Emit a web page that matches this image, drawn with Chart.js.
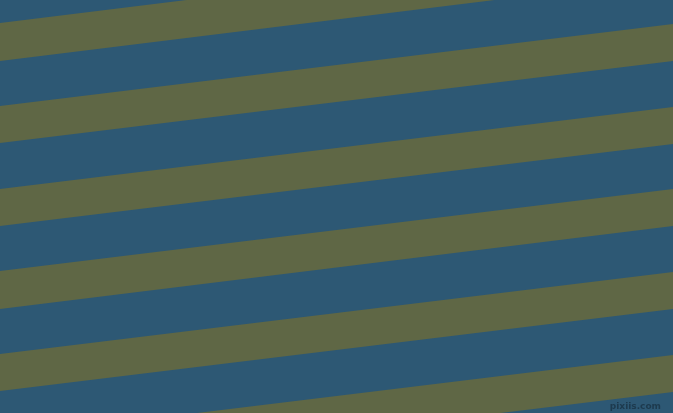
<!DOCTYPE html>
<html>
<head>
<meta charset="utf-8">
<script src="https://cdn.jsdelivr.net/npm/chart.js@4"></script>
<style>
  html, body { margin: 0; padding: 0; background: #2d5874; }
  #wrap { width: 673px; height: 413px; position: relative; }
</style>
</head>
<body>
<div id="wrap"><canvas id="stripeChart"></canvas></div>
<script>
// edges of the picture along x
const edgeX = [0, 673];
// olive stripe edges (y in px from top), read at the left and right edges
const leftTop = [23, 106, 189, 271, 354, 437];
const leftBottom = [61, 143, 226, 309, 391, 474];
const rightTop = [-60, 24, 107, 189, 272, 355];
const rightBottom = [-22, 61, 144, 226, 309, 392];

const blue = '#2d5874';
const olive = '#5f6745';

const datasets = [];
leftTop.forEach((t, i) => {
  datasets.push({
    data: [{ x: edgeX[0], y: t }, { x: edgeX[1], y: rightTop[i] }],
    borderColor: 'transparent',
    borderWidth: 0,
    pointRadius: 0,
    fill: false
  });
  datasets.push({
    data: [{ x: edgeX[0], y: leftBottom[i] }, { x: edgeX[1], y: rightBottom[i] }],
    borderColor: 'transparent',
    borderWidth: 0,
    pointRadius: 0,
    backgroundColor: olive,
    fill: '-1'
  });
});

const bgPlugin = {
  id: 'bg',
  beforeDraw(chart) {
    const c = chart.ctx;
    c.save();
    c.fillStyle = blue;
    c.fillRect(0, 0, chart.width, chart.height);
    c.restore();
  },
  afterDraw(chart) {
    const c = chart.ctx;
    c.save();
    c.font = 'bold 9px "DejaVu Sans"';
    c.textAlign = 'right';
    c.textBaseline = 'bottom';
    c.fillStyle = '#1d3a4e';
    c.fillText('pixiis.com', 661, 411);
    c.restore();
  }
};

new Chart(document.getElementById('stripeChart'), {
  type: 'line',
  data: { datasets: datasets },
  plugins: [bgPlugin],
  options: {
    responsive: true,
    maintainAspectRatio: false,
    animation: false,
    layout: { padding: 0 },
    plugins: { legend: { display: false }, tooltip: { enabled: false } },
    scales: {
      x: { type: 'linear', min: 0, max: 673, display: false },
      y: { type: 'linear', min: 0, max: 413, reverse: true, display: false }
    }
  }
});
</script>
</body>
</html>
